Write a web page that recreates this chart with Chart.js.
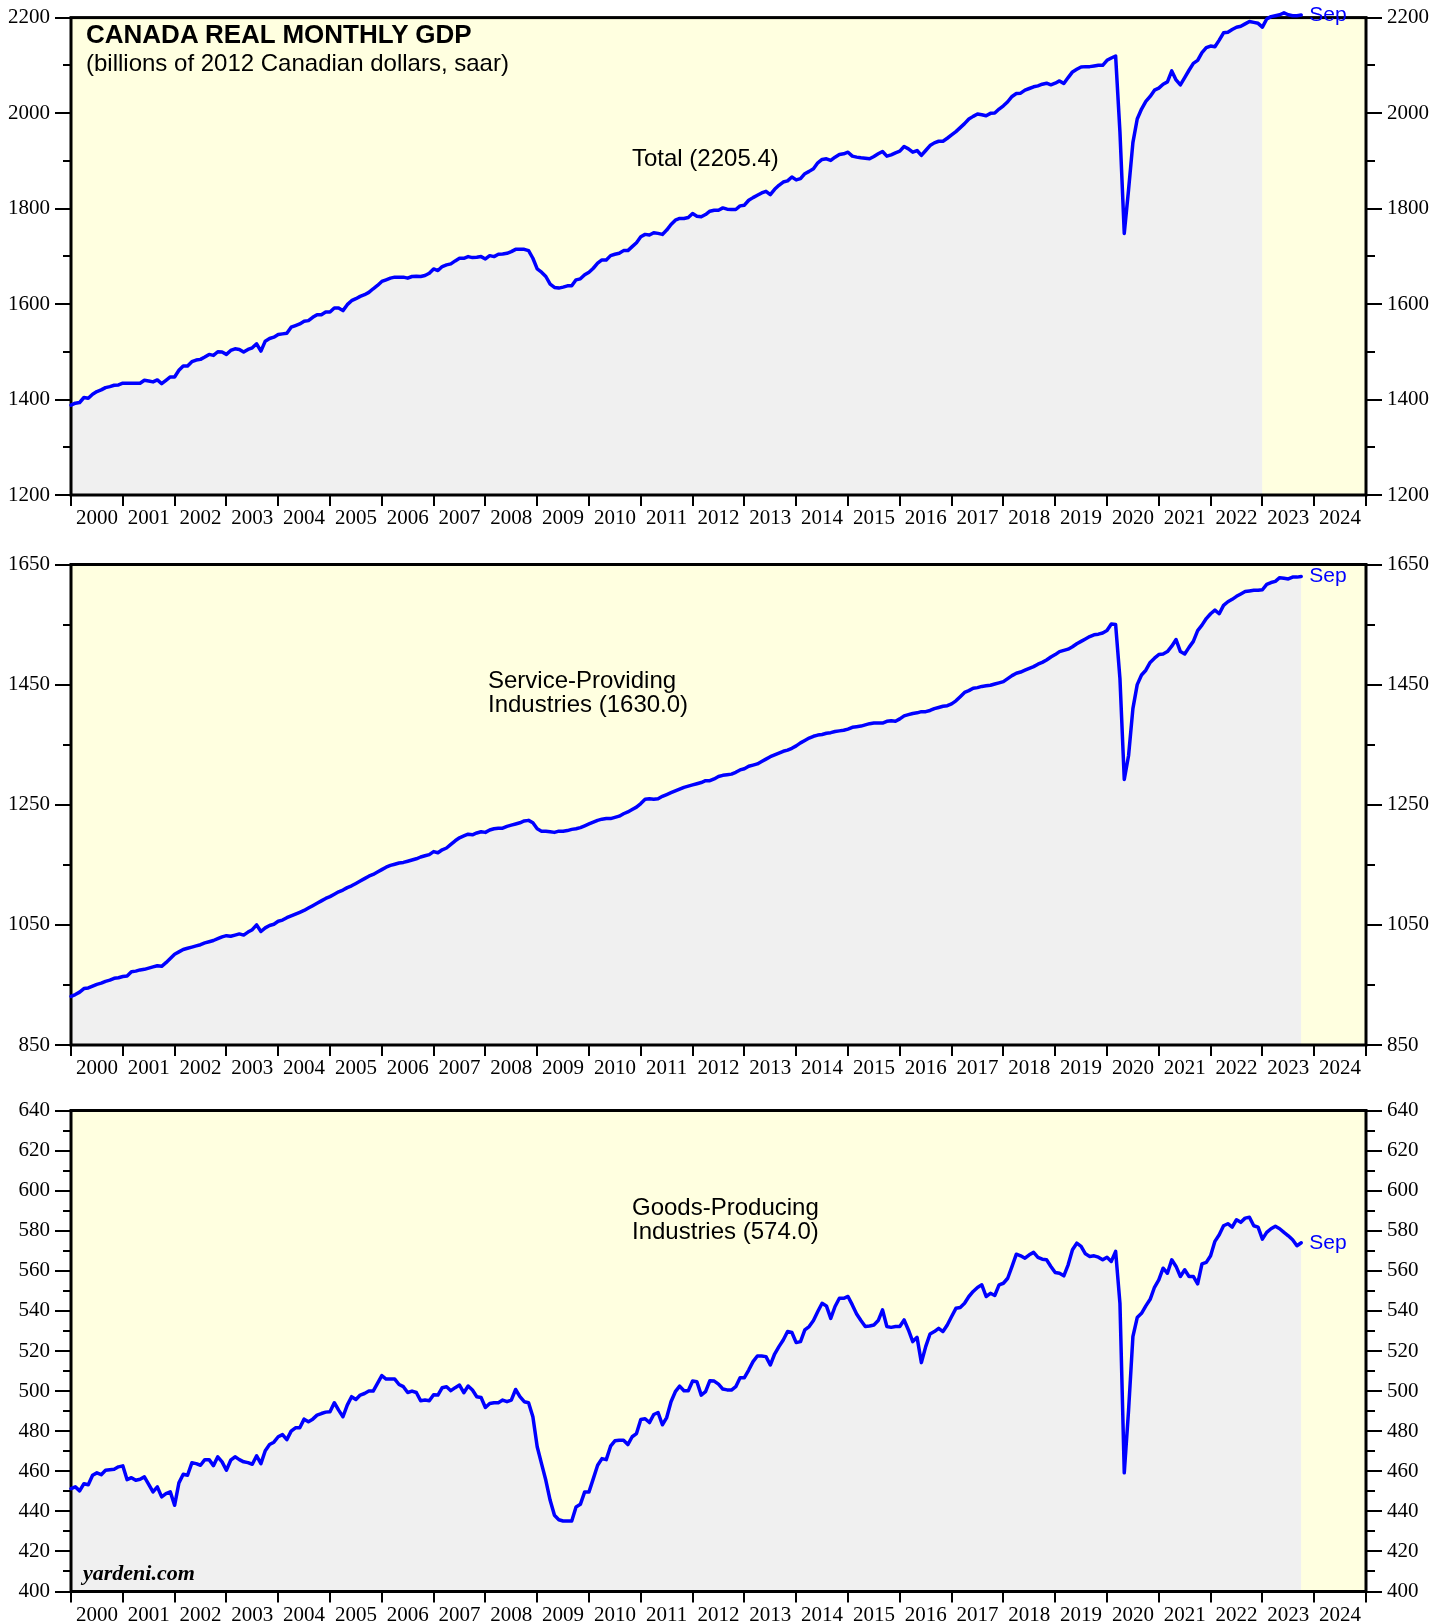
<!DOCTYPE html>
<html>
<head>
<meta charset="utf-8">
<script src="https://cdn.jsdelivr.net/npm/chart.js@4.4.1/dist/chart.umd.min.js"></script>
<style>
html,body{margin:0;padding:0;background:#fff;}
#wrap{position:relative;width:1448px;height:1623px;overflow:hidden;}
canvas{position:absolute;left:0;}
.t{position:absolute;white-space:nowrap;line-height:1;color:#000;font-family:'Liberation Sans',Arial,sans-serif;}
</style>
</head>
<body>
<div id="wrap">
<canvas id="c1" width="1448" height="540" style="top:0px;width:1448px;height:540px"></canvas>
<canvas id="c2" width="1448" height="545" style="top:540px;width:1448px;height:545px"></canvas>
<canvas id="c3" width="1448" height="538" style="top:1085px;width:1448px;height:538px"></canvas>
<div class="t" style="left:86px;top:21px;font-weight:bold;font-size:26px;">CANADA REAL MONTHLY GDP</div>
<div class="t" style="left:86px;top:51px;font-size:24px;">(billions of 2012 Canadian dollars, saar)</div>
<div class="t" style="left:632px;top:146px;font-size:24px;">Total (2205.4)</div>
<div class="t" style="left:488px;top:668px;font-size:24px;">Service-Providing</div>
<div class="t" style="left:488px;top:692px;font-size:24px;">Industries (1630.0)</div>
<div class="t" style="left:632px;top:1195px;font-size:24px;">Goods-Producing</div>
<div class="t" style="left:632px;top:1219px;font-size:24px;">Industries (574.0)</div>
<div class="t" style="left:83px;top:1562px;font-family:'Liberation Serif','Times New Roman',serif;font-weight:bold;font-style:italic;font-size:22px;">yardeni.com</div>
</div>
<script>
// ---- Data: monthly values, first value = Dec 1999, last value = Sep 2023 ----
const firstMonth = { year: 1999, month: 12 };
const lastLabel = 'Sep';
const yearLabels = ['2000','2001','2002','2003','2004','2005','2006','2007','2008','2009','2010','2011','2012','2013','2014','2015','2016','2017','2018','2019','2020','2021','2022','2023','2024'];

const totalGdp = [
1388.2,1392.4,1393.8,1404.2,1402.8,1411.2,1416.7,1420.2,1425,1427.1,1429.9,1430.6,
1434.1,1434.1,1434.1,1434.1,1434.1,1440.3,1438.9,1436.9,1441,1433.4,1440.3,1447.3,
1447.3,1461.2,1470.2,1470.2,1479.2,1482.7,1484.1,1489,1494.5,1492.4,1500,1499.4,
1494.5,1502.8,1506.3,1504.9,1499.4,1504.9,1508.4,1516.7,1501.4,1522.3,1527.8,1530.6,
1536.2,1537.5,1538.9,1551.4,1554.9,1558.4,1563.9,1565.3,1572.3,1577.8,1577.8,1583.4,
1583.4,1591.7,1591.7,1586.2,1598.7,1607,1611.2,1616,1619.5,1624.4,1632,1639,
1647.3,1650.7,1654.2,1656.3,1656.3,1656.3,1654.2,1657.7,1658.4,1657.7,1659.8,1664.6,
1673.6,1670.2,1678.5,1682,1684.1,1690.3,1695.9,1695.9,1699.4,1697.3,1698,1699.4,
1694.5,1701.4,1699.4,1704.2,1704.9,1706.3,1709.8,1714.6,1714.6,1714.6,1711.9,1695.9,
1673.6,1666.7,1657.7,1641.7,1634.8,1633.4,1635.5,1638.2,1638.2,1650.7,1652.8,1661.2,
1666.7,1675,1685.5,1692.4,1692.4,1701.4,1704.2,1706.3,1711.9,1711.9,1720.2,1728.5,
1741,1745.9,1744.5,1749.3,1748,1745.9,1754.9,1766.7,1775.7,1779.2,1779.2,1781.3,
1789.6,1784.1,1782.7,1787.5,1794.5,1796.6,1796.6,1801.4,1798.7,1798,1798,1805.6,
1807,1817.4,1822.9,1827.8,1832.7,1836.2,1829.2,1840.3,1848.7,1855.6,1858,1866,
1860,1862.6,1873,1877.9,1883.4,1895.9,1902.9,1904.3,1900.8,1907.7,1913.3,1914.7,
1918.1,1909.8,1907.7,1906.3,1905.6,1904.3,1909.1,1914.7,1919.5,1909.8,1912.6,1916.7,
1920.2,1930,1925.1,1918.1,1921.6,1911.2,1921.6,1932,1937.6,1941,1941,1947.3,
1954.2,1961.2,1969.5,1977.9,1987.6,1993.1,1998,1996.6,1994.5,1999.4,2000.1,2008.4,
2015.3,2023.7,2034.8,2041,2041.7,2048,2051.5,2055,2057,2060.5,2062.6,2059.1,
2062.6,2067.4,2061.9,2074.4,2086.2,2091.7,2096.6,2097.3,2097.3,2098.7,2100.1,2100.1,
2110.5,2115.4,2119.5,1960,1748,1840,1938,1987.6,2008.4,2024.4,2034.8,2048,
2052.2,2060.5,2065.4,2088.3,2069.5,2059.1,2074.4,2089.7,2104.2,2110.5,2126.5,2136.9,
2140.4,2139,2152.9,2168.1,2169.5,2175.1,2179.9,2182,2186.9,2192,2190,2188,
2180,2197,2202,2204,2206,2210,2206,2204,2204,2205.4
];

const servicesGdp = [
931,934,938,944,945,948,951,953,956,958,961,962,
964,965,972,973,975,976,978,980,982,981,987,994,
1001,1005,1009,1011,1013,1015,1017,1020,1022,1024,1027,1030,
1032,1031,1033,1035,1033,1038,1042,1050,1039,1045,1049,1051,
1056,1058,1062,1065,1068,1071,1074,1078,1082,1086,1090,1094,
1097,1101,1105,1108,1112,1115,1119,1123,1127,1131,1134,1138,
1142,1146,1149,1151,1153,1154,1156,1158,1160,1163,1165,1167,
1172,1170,1175,1178,1184,1190,1195,1198,1201,1200,1203,1205,
1204,1208,1210,1211,1211,1214,1216,1218,1220,1223,1224,1220,
1210,1206,1206,1205,1204,1206,1206,1207,1209,1210,1212,1215,
1218,1221,1224,1226,1227,1227,1229,1231,1235,1238,1242,1246,
1252,1259,1260,1259,1260,1264,1267,1270,1273,1276,1279,1281,
1283,1285,1287,1290,1290,1293,1297,1299,1300,1301,1304,1308,
1310,1314,1316,1318,1322,1326,1330,1333,1336,1339,1341,1344,
1348,1353,1357,1361,1364,1366,1367,1369,1370,1372,1373,1374,
1376,1379,1380,1381,1383,1385,1386,1386,1386,1389,1390,1389,
1393,1398,1400,1402,1403,1405,1405,1407,1410,1412,1414,1415,
1418,1423,1430,1437,1440,1444,1445,1447,1448,1449,1451,1453,
1455,1460,1465,1469,1471,1474,1477,1480,1484,1487,1491,1496,
1500,1505,1507,1509,1513,1518,1522,1526,1530,1533,1534,1536,
1540,1551,1550,1460,1292,1332,1410,1450,1466,1474,1487,1494,
1500,1501,1505,1514,1525,1505,1501,1512,1522,1540,1549,1560,
1568,1574,1568,1582,1588,1592,1597,1601,1605,1606,1607,1607,
1608,1617,1620,1622,1628,1627,1626,1629,1629,1630.0
];

const goodsGdp = [
451.3,452.2,450.2,453.8,453.3,458,459.2,458.3,460.5,460.8,461,462.2,
462.7,455.8,456.8,455.5,456,457.2,453.5,449.7,452.2,447.2,448.8,449.7,
443,454.2,458.5,458,464.2,463.8,463,465.8,465.8,462.8,467.2,464.7,
460.5,465.5,467.2,465.8,464.7,464.3,463.5,467.7,463.8,470.2,473.3,474.5,
477.2,478.3,475.8,480,481.7,481.7,486,484.7,486,488,488.8,489.5,
489.7,494.2,490.5,487.2,493,497.2,495.8,498,498.8,500,500,503.8,
507.7,506,506,506,503.3,502.2,499.3,500,499.3,495.2,495.5,495.2,
498.2,498,501.7,502.2,500.2,501.7,503,499.2,502.5,500.5,497.2,496.8,
491.8,493.8,494.2,494.2,495.5,494.7,495.5,500.8,497.2,494.7,494.2,487.2,
472.2,463.8,455.5,445.5,438,435.8,435.2,435.2,435.2,442.2,443.5,449.7,
449.7,456.3,463,466.3,465.8,472.5,475.2,475.5,475.5,473.3,477.2,478.8,
485.8,486.2,484.3,488.3,489.3,483.2,486.8,494.7,499.7,502.5,500.2,500.2,
505,504.7,498,499.7,505.2,505,503.5,501,500.6,500.5,502.2,506.7,
506.7,510.5,514.7,517.5,517.5,517.2,513,518.5,522.2,525.5,529.7,529.2,
524.2,524.7,530.5,532.2,535.2,539.7,543.8,542.5,536.3,542.2,546.3,546.3,
547.2,543,538.5,535.2,532.2,532.5,533,535.2,540.5,532.2,531.8,532.2,
532.2,535.5,530.5,524.7,526.8,514.2,522.2,528.5,529.7,531.3,529.7,533,
537.2,541.3,541.7,543.8,547.2,549.7,551.7,553,547.2,548.8,547.7,553,
553.8,556.3,562.2,568.3,567.5,566.3,568,569.2,566.7,565.8,565.5,562.2,
559.2,558.8,557.5,563,570.5,573.8,572.2,568.5,567.2,567.5,566.8,565.5,
566.8,564.7,569.7,543.8,459.2,490.5,527.2,536.7,538.8,542.5,545.8,551.8,
555.5,561.3,558.8,565.5,562.2,557.2,560.5,557.2,557.2,553.5,563.5,564.2,
567.5,574.7,578,582.5,583.5,581.8,585.5,584.2,586.3,586.7,582.5,581.8,
575.8,579.2,581,582.2,581,579.2,577.5,575.5,572.5,574.0
];

// Gray area of the top panel stops at end of 2022 (Dec 2022 value)
const totalFillEndIndex = 276;

// ---- Helpers ----
// Monthly observations are placed at the end of their month on a year axis
function toPoints(values) {
  const start = firstMonth.year + firstMonth.month / 12;
  return values.map((v, i) => ({ x: start + i / 12, y: v }));
}

const BG = '#FFFFE0';
const FILL = '#F0F0F0';
const LINE = '#0000FF';
const TICK_FONT = { family: "'Liberation Serif','Times New Roman',serif", size: 21 };

const panelPlugin = {
  id: 'panel',
  beforeDatasetsDraw(chart) {
    const { ctx, chartArea: a } = chart;
    ctx.save();
    ctx.fillStyle = BG;
    ctx.fillRect(a.left, a.top, a.right - a.left, a.bottom - a.top);
    ctx.restore();
  },
  afterDatasetDraw(chart, args) {
    if (args.index !== 1) return;
    const { ctx, chartArea: a } = chart;
    const o = chart.options.plugins.panel;
    ctx.save();
    const ys = chart.scales.y;
    ctx.strokeStyle = '#000';
    ctx.lineWidth = 2;
    for (let v = ys.min; v <= ys.max + 1e-9; v += o.minor) {
      if (Math.abs(v / o.major - Math.round(v / o.major)) < 1e-9) continue;
      const py = Math.round(ys.getPixelForValue(v));
      ctx.beginPath();
      ctx.moveTo(a.left - 8, py); ctx.lineTo(a.left, py);
      ctx.moveTo(a.right, py); ctx.lineTo(a.right + 9, py);
      ctx.stroke();
    }
    ctx.lineWidth = 3;
    ctx.strokeRect(a.left, a.top, a.right - a.left, a.bottom - a.top);
    ctx.restore();
  },
  afterDraw(chart) {
    const { ctx } = chart;
    const meta = chart.getDatasetMeta(0);
    const pt = meta.data[meta.data.length - 1];
    ctx.save();
    ctx.fillStyle = LINE;
    ctx.font = "21px 'Liberation Sans', Arial, sans-serif";
    ctx.textBaseline = 'middle';
    ctx.textAlign = 'left';
    ctx.fillText(lastLabel, pt.x + 8, pt.y);
    ctx.restore();
  }
};

function yAxis(pos, min, max, major, width) {
  return {
    type: 'linear', position: pos, min, max,
    afterBuildTicks(s) {
      const t = [];
      for (let v = min; v <= max + 1e-9; v += major) t.push({ value: v });
      s.ticks = t;
    },
    afterFit(s) { s.width = width; },
    border: { display: false },
    grid: { drawOnChartArea: false, drawTicks: true, tickLength: 16, lineWidth: 2, color: '#000' },
    ticks: { color: '#000', font: TICK_FONT, padding: 5, callback: v => String(v) }
  };
}

function makePanel(canvasId, values, opts) {
  const pts = toPoints(values);
  const fillPts = opts.fillEnd != null ? pts.slice(0, opts.fillEnd + 1) : pts;
  return new Chart(document.getElementById(canvasId), {
    type: 'line',
    data: {
      datasets: [
        { data: pts, borderColor: LINE, borderWidth: 3.5, pointRadius: 0, fill: false,
          tension: 0, clip: false, order: 0, borderJoinStyle: 'round', borderCapStyle: 'round' },
        { data: fillPts, borderColor: 'rgba(0,0,0,0)', borderWidth: 0, pointRadius: 0,
          fill: 'start', backgroundColor: FILL, tension: 0, order: 1 }
      ]
    },
    options: {
      responsive: false, animation: false, events: [],
      layout: { padding: { top: opts.padTop, left: 0, right: 0, bottom: 0 } },
      plugins: { legend: { display: false }, tooltip: { enabled: false },
        panel: { major: opts.major, minor: opts.minor } },
      scales: {
        x: {
          type: 'linear', position: 'bottom', min: 2000, max: 2025,
          afterBuildTicks(s) {
            const t = [];
            for (let y = 2000; y <= 2025; y++) {
              t.push({ value: y });
              if (y < 2025) t.push({ value: y + 0.5 });
            }
            s.ticks = t;
          },
          afterFit(s) { s.height = opts.xAxisH; },
          border: { display: false },
          grid: { drawOnChartArea: false, drawTicks: true, tickLength: 11, lineWidth: 2,
            color: c => (c.tick && Number.isInteger(c.tick.value)) ? '#000' : 'rgba(0,0,0,0)' },
          ticks: { autoSkip: false, maxRotation: 0, minRotation: 0, padding: 0, color: '#000', font: TICK_FONT,
            callback: v => Number.isInteger(v) ? '' : yearLabels[Math.floor(v) - 2000] }
        },
        y: yAxis('left', opts.min, opts.max, opts.major, 71),
        y2: yAxis('right', opts.min, opts.max, opts.major, 82)
      }
    },
    plugins: [panelPlugin]
  });
}

makePanel('c1', totalGdp, { min: 1200, max: 2200, major: 200, minor: 100, padTop: 13.5, xAxisH: 45, fillEnd: totalFillEndIndex });
makePanel('c2', servicesGdp, { min: 850, max: 1650, major: 200, minor: 100, padTop: 24.5, xAxisH: 40, fillEnd: null });
makePanel('c3', goodsGdp, { min: 400, max: 640, major: 20, minor: 10, padTop: 25.5, xAxisH: 31.5, fillEnd: null });
</script>
</body>
</html>
